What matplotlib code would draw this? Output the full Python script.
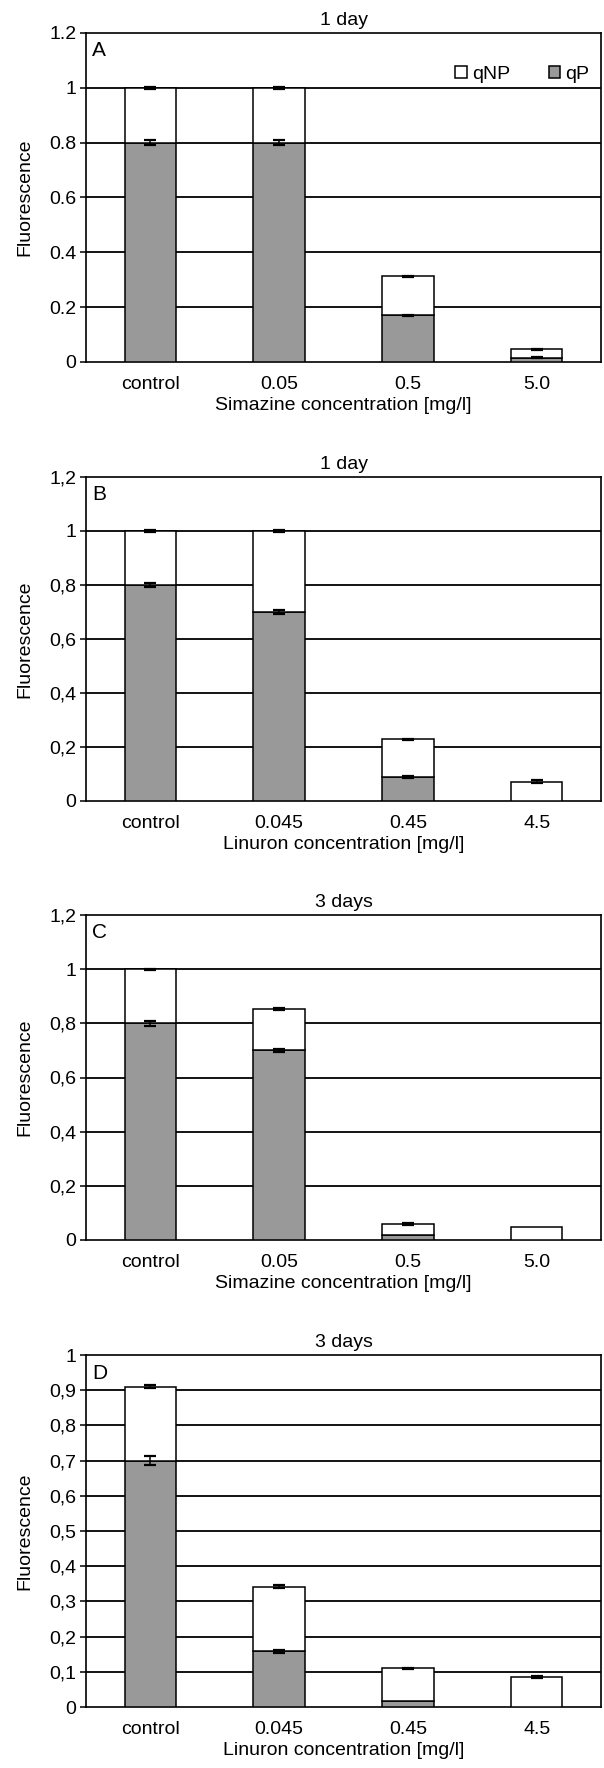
import matplotlib
matplotlib.use('Agg')
from matplotlib import pyplot as plt
import numpy as np

plt.rcParams['font.family'] = ['Liberation Sans', 'DejaVu Sans']
plt.rcParams['font.size'] = 14

# ********** Data **********

simazineCats = ['control', '0.05', '0.5', '5.0']
linuronCats = ['control', '0.045', '0.45', '4.5']

# panel A: Simazine, 1 day
qP_A = [0.80, 0.80, 0.17, 0.016]
total_A = [1.00, 1.00, 0.312, 0.046]
errP_A = [0.010, 0.010, 0.002, 0.002]
errT_A = [0.004, 0.004, 0.003, 0.002]

# panel B: Linuron, 1 day
qP_B = [0.80, 0.70, 0.088, 0.0]
total_B = [1.00, 1.00, 0.228, 0.072]
errP_B = [0.008, 0.008, 0.003, 0.0]
errT_B = [0.003, 0.003, 0.003, 0.004]

# panel C: Simazine, 3 days
qP_C = [0.80, 0.70, 0.018, 0.0]
total_C = [1.00, 0.852, 0.058, 0.049]
errP_C = [0.008, 0.006, 0.0, 0.0]
errT_C = [0.002, 0.003, 0.003, 0.0]

# panel D: Linuron, 3 days
qP_D = [0.70, 0.158, 0.018, 0.0]
total_D = [0.910, 0.342, 0.110, 0.085]
errP_D = [0.012, 0.005, 0.0, 0.0]
errT_D = [0.004, 0.004, 0.002, 0.002]

ticks12 = [0, 0.2, 0.4, 0.6, 0.8, 1.0, 1.2]
tickLabelsDot = ['0', '0.2', '0.4', '0.6', '0.8', '1', '1.2']
tickLabelsComma = ['0', '0,2', '0,4', '0,6', '0,8', '1', '1,2']
ticks10 = [0, 0.1, 0.2, 0.3, 0.4, 0.5, 0.6, 0.7, 0.8, 0.9, 1.0]
tickLabels10 = ['0', '0,1', '0,2', '0,3', '0,4', '0,5', '0,6', '0,7', '0,8', '0,9', '1']

grey = '#999999'

# ***** Axes placement (figure fractions) *****
W, H = 604, 1768
def box(top, bottom, left=86, right=601):
	return [left / W, 1 - bottom / H, (right - left) / W, (bottom - top) / H]

fig = plt.figure(figsize=(W / 100, H / 100), dpi=100)

panels = [
	('A', '1 day', simazineCats, 'Simazine concentration [mg/l]', qP_A, total_A, errP_A, errT_A, ticks12, tickLabelsDot, 1.2, box(33, 362)),
	('B', '1 day', linuronCats, 'Linuron concentration [mg/l]', qP_B, total_B, errP_B, errT_B, ticks12, tickLabelsComma, 1.2, box(477, 801)),
	('C', '3 days', simazineCats, 'Simazine concentration [mg/l]', qP_C, total_C, errP_C, errT_C, ticks12, tickLabelsComma, 1.2, box(915, 1240)),
	('D', '3 days', linuronCats, 'Linuron concentration [mg/l]', qP_D, total_D, errP_D, errT_D, ticks10, tickLabels10, 1.0, box(1355, 1707)),
]

for letter, title, cats, xlabel, qP, total, errP, errT, yticks, ylabels, ymax, rect in panels:
	ax = fig.add_axes(rect)
	x = np.arange(len(cats))
	qNP = np.array(total) - np.array(qP)
	ax.bar(x, qP, width=0.4, color=grey, edgecolor='black', linewidth=1.1, zorder=3, label='qP')
	ax.bar(x, qNP, bottom=qP, width=0.4, color='white', edgecolor='black', linewidth=1.1, zorder=3, label='qNP')
	for xi, p, e in zip(x, qP, errP):
		if p > 0 and e > 0:
			ax.errorbar(xi, p, yerr=e, color='black', capsize=4.5, capthick=1.6, elinewidth=1.1, zorder=4)
	for xi, t, e in zip(x, total, errT):
		if e > 0:
			ax.errorbar(xi, t, yerr=e, color='black', capsize=4.5, capthick=1.6, elinewidth=1.1, zorder=4)

	ax.set_xlim(-0.5, len(cats) - 0.5)
	ax.set_ylim(0, ymax)
	ax.set_yticks(yticks)
	ax.set_yticklabels(ylabels)
	ax.set_xticks(x)
	ax.set_xticklabels(cats)
	ax.tick_params(axis='x', length=0, pad=10)
	ax.tick_params(axis='y', length=4, width=1.1, pad=3)
	for g in yticks[1:-1]:
		ax.axhline(g, color='black', linewidth=1.3, zorder=1)
	for s in ax.spines.values():
		s.set_linewidth(1.2)
	ax.set_title(title, fontsize=14, pad=6)
	ax.set_xlabel(xlabel, labelpad=3)
	ax.set_ylabel('Fluorescence', labelpad=11)
	ax.text(0.012, 0.975, letter, transform=ax.transAxes, ha='left', va='top', fontsize=15)

	if letter == 'A':
		h, l = ax.get_legend_handles_labels()
		ax.legend([h[1], h[0]], [l[1], l[0]], ncol=2, frameon=False, loc='upper right',
			bbox_to_anchor=(1.0, 0.935), handlelength=0.6, handleheight=0.6,
			handletextpad=0.25, columnspacing=2.0, borderaxespad=0.2)

plt.savefig('out.png', dpi=100)
